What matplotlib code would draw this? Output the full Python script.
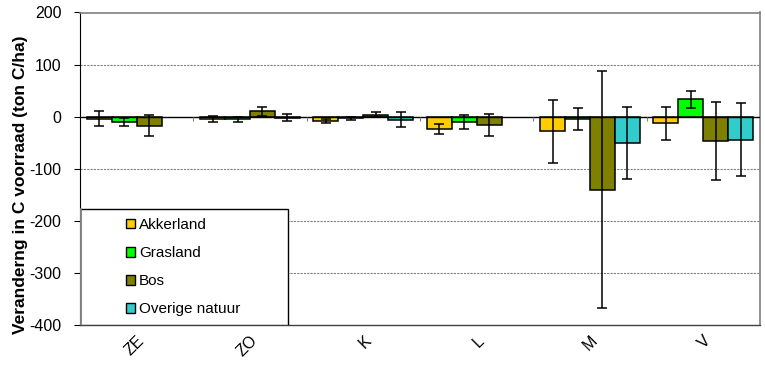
import matplotlib
matplotlib.use("Agg")
import matplotlib.pyplot as plt
import numpy as np
from matplotlib.patches import Rectangle, Patch

plt.rcParams['font.family'] = ['Liberation Sans', 'DejaVu Sans']
plt.rcParams['axes.unicode_minus'] = False

categories = ["ZE", "ZO", "K", "L", "M", "V"]
series_names = ["Akkerland", "Grasland", "Bos", "Overige natuur"]
akkerland = [-4, -4, -9, -24, -28, -13]
akkerland_err = [14, 6, 4, 9, 60, 32]
grasland = [-10, -5, -3, -10, -5, 33]
grasland_err = [7, 5, 3, 13, 21, 16]
bos = [-17, 10, 4, -16, -140, -46]
bos_err = [20, 8, 5, 21, 227, 75]
overige = [np.nan, -2, -6, np.nan, -51, -44]
overige_err = [np.nan, 7, 14, np.nan, 69, 70]
colors = ["#FFCC00", "#00FF00", "#808000", "#33CCCC"]

values = [akkerland, grasland, bos, overige]
errors = [akkerland_err, grasland_err, bos_err, overige_err]

fig = plt.figure(figsize=(7.65, 3.67), dpi=100)
ax = fig.add_axes([80/765, 42/367, 680/765, 312.5/367])

x = np.arange(len(categories))
w = 0.22
for i, (vals, errs, c) in enumerate(zip(values, errors, colors)):
    pos = x + (i - 1.5) * w
    ax.bar(pos, vals, width=w, color=c, edgecolor='black', linewidth=1.1, zorder=3)
    ax.errorbar(pos, vals, yerr=errs, fmt='none', ecolor='black', elinewidth=1.1,
                capsize=3.5, capthick=1.1, zorder=4)

ax.set_xlim(-0.5, len(categories) - 0.5)
ax.set_ylim(-400, 200)
ax.set_yticks(np.arange(-400, 201, 100))
for yv in [100, -100, -200, -300]:
    ax.axhline(yv, color='#808080', linestyle=(0, (2, 1)), linewidth=0.8, zorder=1)
ax.axhline(0, color='black', linewidth=1.0, zorder=5)
# category boundary ticks on the zero line
bounds = np.arange(0.5, len(categories) - 0.5, 1.0)
ax.vlines(bounds, -8, 0, color='#808080', linewidth=0.8, zorder=5)

for s in ['top', 'right']:
    ax.spines[s].set_color('#808080')
    ax.spines[s].set_linewidth(1.2)
ax.spines['left'].set_color('black')
ax.spines['bottom'].set_color('#404040')
ax.spines['bottom'].set_linewidth(1.0)

ax.set_xticks(x)
ax.set_xticklabels(categories, rotation=45, ha='right', rotation_mode='anchor', fontsize=11.5)
ax.tick_params(axis='x', length=0, pad=6)
ax.tick_params(axis='y', length=4.5, direction='out', labelsize=11.5, pad=9)
ax.set_ylabel("Veranderng in C voorraad (ton C/ha)", fontweight='bold', fontsize=12.5)
ax.yaxis.set_label_coords(-0.077, 0.45)

# legend box
box = Rectangle((0, 0), 208/680, 116/312.5, transform=ax.transAxes, facecolor='white',
                edgecolor='black', linewidth=1.0, zorder=6)
ax.add_patch(box)
ax.plot([0, 0], [0, 116/312.5], transform=ax.transAxes, color='#808080', linewidth=2, zorder=6.5)
handles = [Patch(facecolor=c, edgecolor='black', linewidth=1.0) for c in colors]
leg = ax.legend(handles, series_names, loc='upper left', bbox_to_anchor=(46/680, 107/312.5),
                frameon=False, fontsize=11, handlelength=0.6, handleheight=0.6,
                handletextpad=0.25, labelspacing=0.92, borderaxespad=0, borderpad=0)
leg.set_zorder(7)

fig.savefig("out.png", dpi=100)
